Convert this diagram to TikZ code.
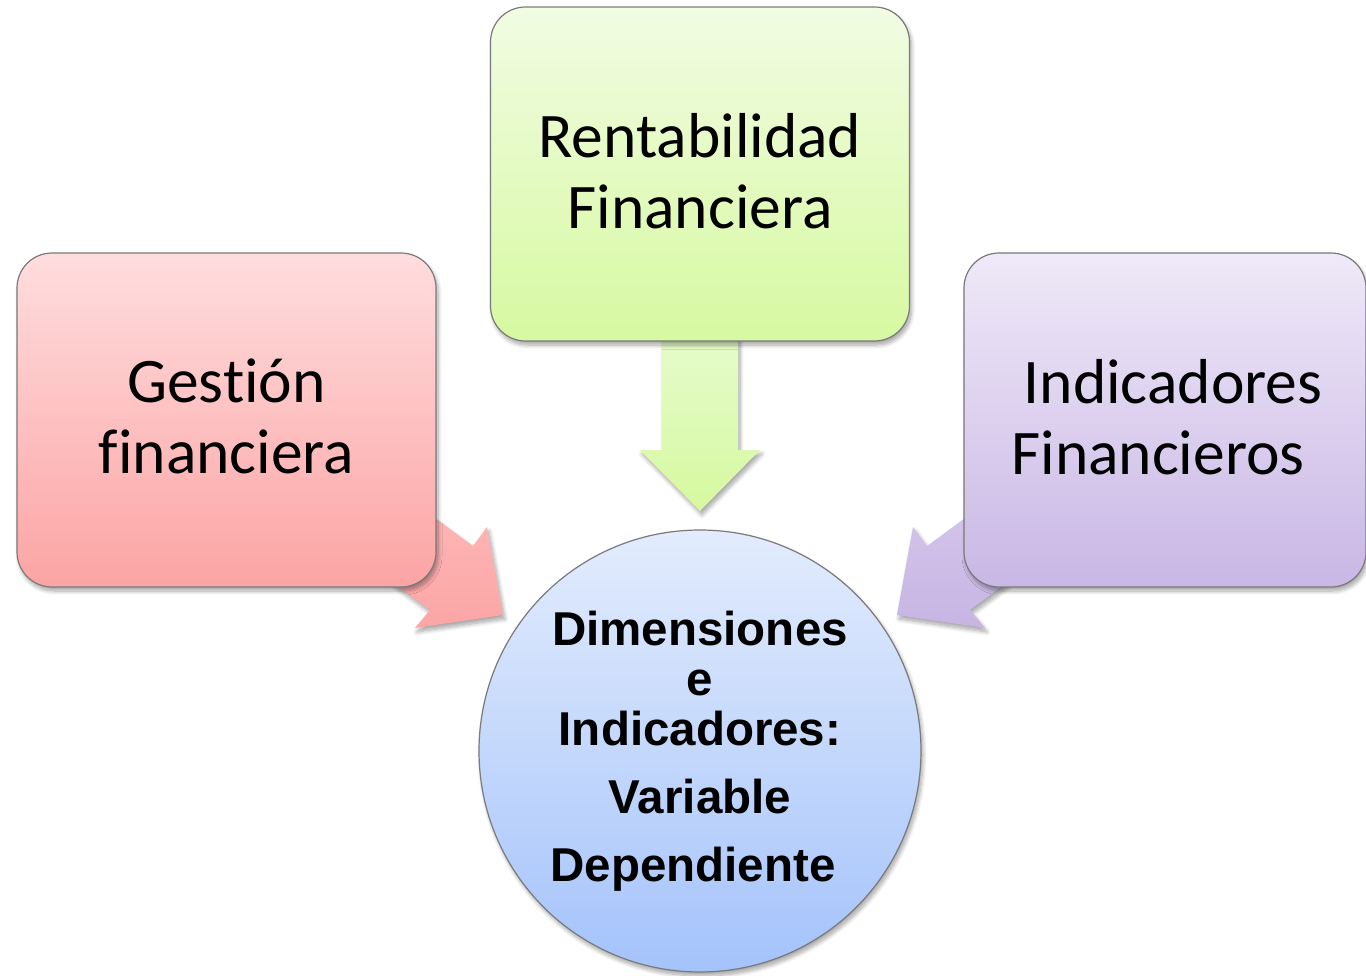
\documentclass[tikz,border=0pt]{standalone}
\usepackage{fontspec}
\setmainfont{Carlito}[Ligatures=NoCommon]
\newfontfamily\arialfont{Liberation Sans}
\usetikzlibrary{shadows,shadows.blur}
\definecolor{pinkT}{HTML}{FFDDDE}
\definecolor{pinkB}{HTML}{FCA4A4}
\definecolor{pinkAT}{HTML}{FFBDBD}
\definecolor{pinkAB}{HTML}{FCA5A5}
\definecolor{greenT}{HTML}{F1FCE3}
\definecolor{greenB}{HTML}{D7F9A1}
\definecolor{greenAT}{HTML}{E6FBCD}
\definecolor{greenAB}{HTML}{D6F99F}
\definecolor{purpT}{HTML}{EFE9F8}
\definecolor{purpB}{HTML}{C9B7E5}
\definecolor{purpAT}{HTML}{D9CCEE}
\definecolor{purpAB}{HTML}{C7B4E3}
\definecolor{blueT}{HTML}{E3ECFD}
\definecolor{blueB}{HTML}{A4C3FB}
\definecolor{edge}{HTML}{7A7A7A}
\tikzset{
  shad/.style={blur shadow={shadow xshift=2pt, shadow yshift=-4pt, shadow blur steps=8, shadow blur radius=4pt, shadow opacity=35}},
  box/.style={draw=edge, line width=1.2pt, rounded corners=35pt, minimum width=419pt, minimum height=334pt,
    align=center, inner sep=0pt, text depth=7pt, font=\fontsize{63.5}{71}\selectfont, shad},
  arrowshape/.style={draw=none, shad},
  hub/.style={circle, draw=edge, line width=1.2pt, minimum size=442pt, inner sep=0pt, align=center,
    top color=blueT, bottom color=blueB, font=\arialfont\bfseries\fontsize{47.5}{50}\selectfont, shad}
}
\begin{document}
\begin{tikzpicture}[x=1pt,y=-1pt]
\useasboundingbox (0,0) rectangle (1366,976);
% arrows (behind boxes)
\path[arrowshape, top color=greenAT, bottom color=greenAB]
  (662,330) -- (738,330) -- (738,450) -- (760,450) -- (700,511) -- (640,450) -- (662,450) -- cycle;
\path[arrowshape, top color=pinkAT, bottom color=pinkAB]
  (352,457) -- (473,546) -- (487,527) -- (503,615) -- (415,628) -- (430,610) -- (309,521) -- cycle;
\path[arrowshape, top color=purpAT, bottom color=purpAB]
  (1048,457) -- (927,546) -- (913,527) -- (897,615) -- (985,628) -- (970,610) -- (1091,521) -- cycle;
% boxes
\node[box, top color=greenT, bottom color=greenB] (rent) at (700,174) {Rentabilidad\\Financiera};
\node[box, top color=pinkT, bottom color=pinkB] (gest) at (226.5,420) {Gestión\\financiera};
\node[box, top color=purpT, bottom color=purpB, minimum width=402pt] (indi) at (1165,420) {\hspace*{16pt}Indicadores\\Financieros\hspace*{14pt}};
% hub
\node[hub] (dim) at (700,751) {Dimensiones\\e\\Indicadores:\\[18pt]Variable\\[18pt]Dependiente\hspace*{14pt}};
\end{tikzpicture}
\end{document}
